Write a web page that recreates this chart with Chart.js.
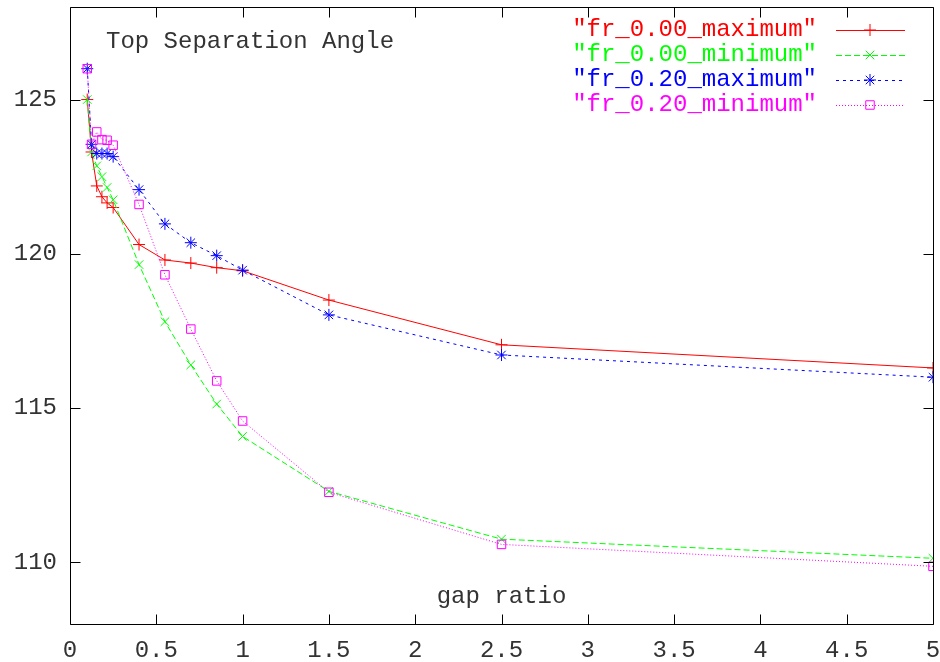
<!DOCTYPE html>
<html>
<head>
<meta charset="utf-8">
<script src="https://cdn.jsdelivr.net/npm/chart.js@4.4.1/dist/chart.umd.min.js"></script>
<style>
  html, body { margin: 0; padding: 0; background: #fff; }
  canvas { display: block; }
</style>
</head>
<body>
<canvas id="chart" width="940" height="662"></canvas>
<script>
'use strict';

// gap ratio (x) and top separation angle (y) per series
const gapRatio = [0.1, 0.125, 0.155, 0.185, 0.215, 0.25, 0.4, 0.55, 0.7, 0.85, 1.0, 1.5, 2.5, 5.0];
const fr000Max = [125.0, 123.3, 122.2, 121.85, 121.65, 121.5, 120.3, 119.8, 119.7, 119.55, 119.45, 118.5, 117.05, 116.3];
const fr000Min = [125.0, 123.3, 122.85, 122.5, 122.15, 121.75, 119.65, 117.8, 116.4, 115.13, 114.08, 112.3, 110.75, 110.13];
const fr020Max = [126.0, 123.55, 123.25, 123.25, 123.25, 123.15, 122.08, 120.97, 120.36, 119.94, 119.47, 118.02, 116.72, 116.0];
const fr020Min = [126.0, 123.55, 123.95, 123.7, 123.68, 123.52, 121.6, 119.32, 117.56, 115.88, 114.58, 112.27, 110.58, 109.87];
const xTicks = [0, 0.5, 1, 1.5, 2, 2.5, 3, 3.5, 4, 4.5, 5];
const yTicks = [110, 115, 120, 125];

const FONT = "'Liberation Mono', 'DejaVu Sans Mono', monospace";
const TEXT = '#333';
const pts = ys => gapRatio.map((x, i) => ({x: x, y: ys[i]}));

function series(label, ys, color, dash, style, order) {
  return {
    label: label,
    data: pts(ys),
    showLine: true,
    borderColor: color,
    backgroundColor: 'rgba(0,0,0,0)',
    borderWidth: 1,
    borderDash: dash,
    pointStyle: style,
    pointRadius: 6,
    pointBorderWidth: 1,
    pointBorderColor: color,
    pointBackgroundColor: 'rgba(0,0,0,0)',
    order: order
  };
}

function noPad(s) {
  s.paddingTop = 0; s.paddingBottom = 0;
  s.paddingLeft = 0; s.paddingRight = 0;
}

// frame with inward ticks, title, axis label and gnuplot-ish key
const gnuplotBits = {
  id: 'gnuplotBits',
  afterDraw(chart) {
    const ctx = chart.ctx;
    const a = chart.chartArea;
    const sx = chart.scales.x, sy = chart.scales.y;
    const L = Math.round(a.left) + 0.5, R = Math.round(a.right) + 0.5;
    const T = Math.round(a.top) + 0.5, B = Math.round(a.bottom) + 0.5;
    const tl = 10;
    ctx.save();
    ctx.strokeStyle = '#000';
    ctx.lineWidth = 1;
    ctx.setLineDash([]);
    ctx.beginPath();
    ctx.rect(L, T, R - L, B - T);
    xTicks.forEach(v => {
      const px = Math.round(sx.getPixelForValue(v)) + 0.5;
      ctx.moveTo(px, B); ctx.lineTo(px, B - tl);
      ctx.moveTo(px, T); ctx.lineTo(px, T + tl);
    });
    yTicks.forEach(v => {
      const py = Math.round(sy.getPixelForValue(v)) + 0.5;
      ctx.moveTo(L, py); ctx.lineTo(L + tl, py);
      ctx.moveTo(R, py); ctx.lineTo(R - tl, py);
    });
    ctx.stroke();

    ctx.font = '24px ' + FONT;
    ctx.fillStyle = TEXT;
    ctx.textBaseline = 'middle';
    ctx.textAlign = 'left';
    ctx.fillText('Top Separation Angle', 106, 42);
    ctx.textAlign = 'center';
    ctx.fillText('gap ratio', (a.left + a.right) / 2, 597);

    // key
    ctx.textAlign = 'right';
    const rows = [30, 55, 80, 105];
    chart.data.datasets.forEach((ds, i) => {
      const yy = rows[i];
      ctx.fillStyle = ds.borderColor;
      ctx.fillText('"' + ds.label + '"', 817, yy);
      ctx.strokeStyle = ds.borderColor;
      ctx.lineWidth = 1;
      ctx.setLineDash(ds.borderDash || []);
      ctx.beginPath();
      ctx.moveTo(836, yy + 0.5);
      ctx.lineTo(905, yy + 0.5);
      ctx.stroke();
      ctx.setLineDash([]);
      ctx.fillStyle = 'rgba(0,0,0,0)';
      Chart.helpers.drawPoint(ctx, {pointStyle: ds.pointStyle, radius: 6, rotation: 0, borderWidth: 1}, 870, yy);
    });
    ctx.restore();
  }
};

new Chart(document.getElementById('chart'), {
  type: 'scatter',
  data: {
    datasets: [
      series('fr_0.00_maximum', fr000Max, '#ff0000', [], 'cross', 3),
      series('fr_0.00_minimum', fr000Min, '#00ff00', [6, 3], 'crossRot', 2),
      series('fr_0.20_maximum', fr020Max, '#0000ff', [3, 4], 'star', 1),
      series('fr_0.20_minimum', fr020Min, '#ff00ff', [1, 2], 'rect', 0)
    ]
  },
  options: {
    responsive: false,
    animation: false,
    devicePixelRatio: 1,
    layout: {padding: {left: 0, right: 6, top: 7, bottom: 0}},
    plugins: {
      legend: {display: false},
      tooltip: {enabled: false},
      title: {display: false}
    },
    scales: {
      x: {
        type: 'linear',
        min: 0,
        max: 5,
        grid: {display: false},
        border: {display: false},
        afterBuildTicks: s => { s.ticks = xTicks.map(v => ({value: v})); },
        afterFit: s => { s.height = 38; noPad(s); },
        ticks: {
          color: TEXT,
          padding: 4,
          maxRotation: 0,
          autoSkip: false,
          font: {family: FONT, size: 24},
          callback: v => String(v)
        }
      },
      y: {
        type: 'linear',
        min: 108,
        max: 128,
        grid: {display: false},
        border: {display: false},
        afterBuildTicks: s => { s.ticks = yTicks.map(v => ({value: v})); },
        afterFit: s => { s.width = 70; noPad(s); },
        ticks: {
          color: TEXT,
          padding: 5,
          font: {family: FONT, size: 24},
          callback: v => String(v)
        }
      }
    }
  },
  plugins: [gnuplotBits]
});
</script>
</body>
</html>
